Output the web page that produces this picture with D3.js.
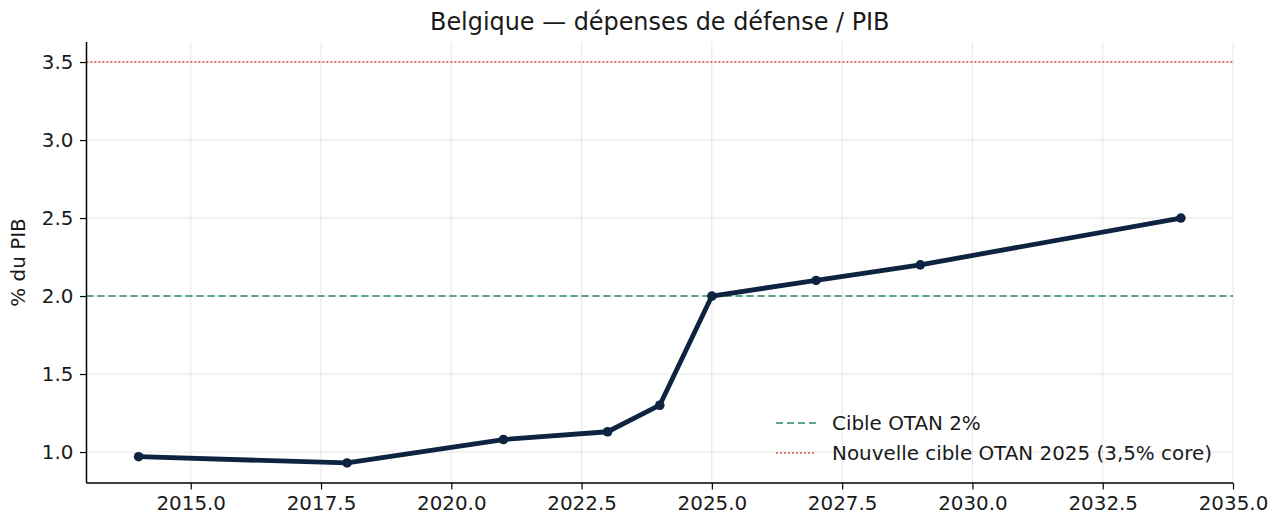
<!DOCTYPE html>
<html>
<head>
<meta charset="utf-8">
<script src="https://cdn.jsdelivr.net/npm/d3@7"></script>
<style>
  html, body { margin: 0; padding: 0; background: #fff; }
  svg { display: block; font-family: "DejaVu Sans", sans-serif; }
</style>
</head>
<body>
<svg id="chart" width="1278" height="517"></svg>
<script>
const years = [2014, 2018, 2021, 2023, 2024, 2025, 2027, 2029, 2034];
const values = [0.97, 0.93, 1.08, 1.13, 1.30, 2.00, 2.10, 2.20, 2.50];
const xTicks = [2015, 2017.5, 2020, 2022.5, 2025, 2027.5, 2030, 2032.5, 2035];
const yTicks = [1.0, 1.5, 2.0, 2.5, 3.0, 3.5];
const target2 = 2.0;
const target35 = 3.5;
const legendLabels = ["Cible OTAN 2%", "Nouvelle cible OTAN 2025 (3,5% core)"];
const title = "Belgique — dépenses de défense / PIB";
const yLabel = "% du PIB";

const svg = d3.select("#chart");
const pLeft = 86.5, pRight = 1233, pTop = 42, pBottom = 483;
const tickFont = 19.9;

const xMin = d3.min(years), xMax = d3.max(years);
const xPad = (xMax - xMin) * 0.05;
const yMinD = Math.min(d3.min(values), target2, target35);
const yMaxD = Math.max(d3.max(values), target2, target35);
const yPad = (yMaxD - yMinD) * 0.05;

const x = d3.scaleLinear().domain([xMin - xPad, xMax + xPad]).range([pLeft, pRight]);
const y = d3.scaleLinear().domain([yMinD - yPad, yMaxD + yPad]).range([pBottom, pTop]);

// grid
const grid = svg.append("g");
grid.selectAll("line.vx").data(xTicks).join("line")
  .attr("x1", d => x(d)).attr("x2", d => x(d))
  .attr("y1", pTop).attr("y2", pBottom)
  .attr("stroke", "#b0b0b0").attr("stroke-opacity", 0.3).attr("stroke-width", 1);
grid.selectAll("line.hy").data(yTicks).join("line")
  .attr("x1", pLeft).attr("x2", pRight)
  .attr("y1", d => y(d)).attr("y2", d => y(d))
  .attr("stroke", "#b0b0b0").attr("stroke-opacity", 0.3).attr("stroke-width", 1);

// reference lines
svg.append("line")
  .attr("x1", pLeft).attr("x2", pRight)
  .attr("y1", y(target2)).attr("y2", y(target2))
  .attr("stroke", "#2a8a5c").attr("stroke-width", 1.6)
  .attr("stroke-dasharray", "7,4");
svg.append("line")
  .attr("x1", pLeft).attr("x2", pRight)
  .attr("y1", y(target35)).attr("y2", y(target35))
  .attr("stroke", "#d9412f").attr("stroke-width", 1.6)
  .attr("stroke-dasharray", "1.8,2.2");

// data line
const line = d3.line().x((d, i) => x(years[i])).y(d => y(d));
svg.append("path").datum(values)
  .attr("d", line)
  .attr("fill", "none").attr("stroke", "#0d2340")
  .attr("stroke-width", 4.8).attr("stroke-linejoin", "round");
svg.selectAll("circle.pt").data(values).join("circle")
  .attr("cx", (d, i) => x(years[i])).attr("cy", d => y(d))
  .attr("r", 4.8).attr("fill", "#0d2340");

// axes
const xAxis = d3.axisBottom(x).tickValues(xTicks).tickFormat(d3.format(".1f"))
  .tickSize(6.5).tickPadding(6).tickSizeOuter(0);
const gx = svg.append("g").attr("transform", `translate(0,${pBottom})`).call(xAxis);
const yAxis = d3.axisLeft(y).tickValues(yTicks).tickFormat(d3.format(".1f"))
  .tickSize(6.5).tickPadding(6.5).tickSizeOuter(0);
const gy = svg.append("g").attr("transform", `translate(${pLeft},0)`).call(yAxis);

[gx, gy].forEach(g => {
  g.select(".domain").attr("stroke", "#000").attr("stroke-width", 1.5);
  g.selectAll(".tick line").attr("stroke", "#000").attr("stroke-width", 1.2);
  g.selectAll(".tick text").attr("fill", "#1a1a1a")
    .style("font-family", "DejaVu Sans").style("font-size", tickFont + "px");
});
gx.select(".domain").attr("d", `M${pLeft},0H${pRight}`);
gy.select(".domain").attr("d", `M0,${pTop}V${pBottom}`);

// title
svg.append("text").attr("x", (pLeft + pRight) / 2 + 0).attr("y", 30)
  .attr("text-anchor", "middle").attr("fill", "#1a1a1a")
  .style("font-size", "23.9px").text(title);

// y label
svg.append("text")
  .attr("transform", `translate(25,${(pTop + pBottom) / 2}) rotate(-90)`)
  .attr("text-anchor", "middle").attr("fill", "#1a1a1a")
  .style("font-size", tickFont + "px").text(yLabel);

// legend
const lg = svg.append("g").attr("transform", "translate(776,423)");
const styles = [
  { stroke: "#2a8a5c", dash: "7,4" },
  { stroke: "#d9412f", dash: "1.8,2.2" }
];
legendLabels.forEach((lab, i) => {
  const row = lg.append("g").attr("transform", `translate(0,${i * 30})`);
  row.append("line").attr("x1", 0).attr("x2", 40).attr("y1", 0).attr("y2", 0)
    .attr("stroke", styles[i].stroke).attr("stroke-width", 1.6)
    .attr("stroke-dasharray", styles[i].dash);
  row.append("text").attr("x", 56).attr("y", 0).attr("dy", "0.35em")
    .attr("fill", "#1a1a1a").style("font-size", tickFont + "px").text(lab);
});
</script>
</body>
</html>
